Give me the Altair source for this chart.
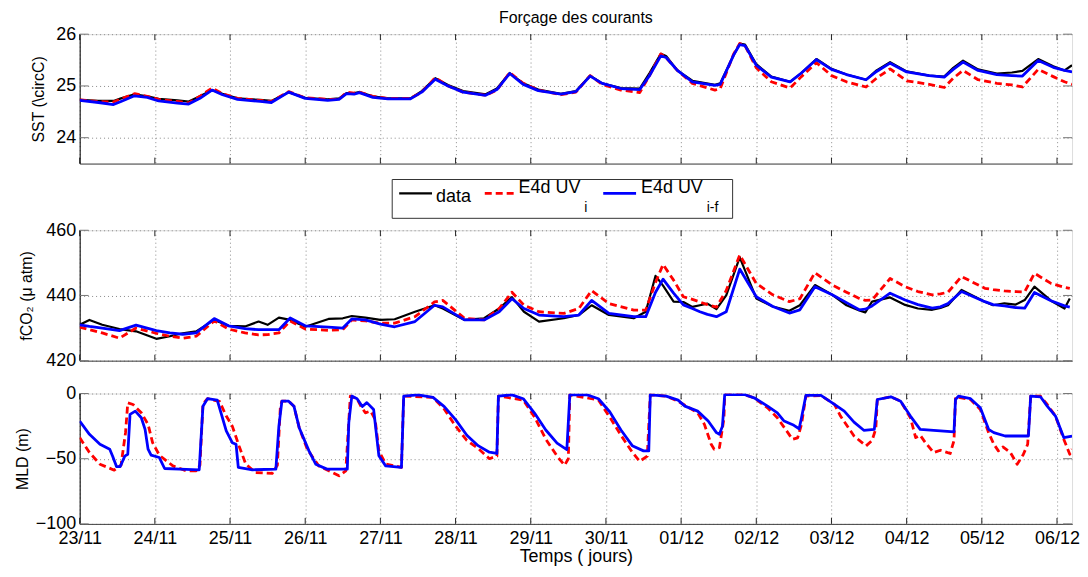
import altair as alt
import pandas as pd

FONT = "Liberation Sans"
W = 997
X_MAX = 13.2

chart_title = "Forçage des courants"
x_title = "Temps ( jours)"

tick_days = list(range(14))
tick_labels = ["23/11", "24/11", "25/11", "26/11", "27/11", "28/11", "29/11",
               "30/11", "01/12", "02/12", "03/12", "04/12", "05/12", "06/12"]

series_names = ["data", "E4d UV", "E4d UV"]
series_subs = ["", "i", "i-f"]
series_colors = ["#000000", "#ff0000", "#0000ff"]

sst_ticks = [24, 25, 26]
fco2_ticks = [420, 440, 460]
mld_ticks = [-100, -50, 0]

# ---------------- SST ----------------
sst_days = [0.00, 0.25, 0.45, 0.55, 0.73, 0.90, 1.05, 1.30, 1.45, 1.60,
            1.76, 1.90, 2.10, 2.40, 2.55, 2.78, 3.00, 3.30, 3.45, 3.55,
            3.65, 3.72, 3.90, 4.10, 4.40, 4.55, 4.73, 4.90, 5.10, 5.40,
            5.55, 5.72, 5.90, 6.10, 6.40, 6.60, 6.79, 6.95, 7.20, 7.45,
            7.58, 7.73, 7.80, 7.95, 8.15, 8.45, 8.52, 8.70, 8.78, 8.85,
            9.00, 9.20, 9.45, 9.60, 9.80, 10.00, 10.20, 10.46, 10.60, 10.78,
            11.00, 11.30, 11.50, 11.62, 11.75, 11.95, 12.20, 12.40, 12.54, 12.75,
            12.95, 13.10, 13.20]
sst_data = [24.73, 24.71, 24.71, 24.76, 24.84, 24.80, 24.75, 24.72, 24.70, 24.80,
            24.92, 24.85, 24.76, 24.73, 24.71, 24.88, 24.77, 24.74, 24.76, 24.86,
            24.86, 24.88, 24.80, 24.76, 24.76, 24.90, 25.15, 25.02, 24.90, 24.84,
            24.95, 25.25, 25.05, 24.93, 24.85, 24.90, 25.20, 25.05, 24.96, 24.95,
            25.25, 25.62, 25.58, 25.30, 25.10, 25.02, 25.05, 25.60, 25.82, 25.80,
            25.42, 25.18, 25.08, 25.25, 25.52, 25.33, 25.22, 25.12, 25.30, 25.46,
            25.28, 25.20, 25.18, 25.35, 25.49, 25.32, 25.24, 25.26, 25.29, 25.52,
            25.38, 25.30, 25.40]
sst_uvi = [24.73, 24.70, 24.69, 24.75, 24.85, 24.80, 24.74, 24.70, 24.67, 24.80,
           24.96, 24.85, 24.76, 24.72, 24.70, 24.89, 24.77, 24.74, 24.74, 24.88,
           24.86, 24.88, 24.80, 24.76, 24.76, 24.88, 25.16, 25.00, 24.88, 24.82,
           24.92, 25.26, 25.05, 24.92, 24.83, 24.88, 25.20, 25.03, 24.92, 24.87,
           25.20, 25.62, 25.55, 25.30, 25.05, 24.92, 24.95, 25.62, 25.82, 25.78,
           25.35, 25.08, 24.96, 25.18, 25.45, 25.20, 25.08, 24.98, 25.15, 25.33,
           25.10, 25.03, 24.97, 25.15, 25.30, 25.12, 25.05, 25.02, 24.98, 25.32,
           25.18, 25.08, 25.03]
sst_uvif = [24.72, 24.68, 24.64, 24.70, 24.81, 24.78, 24.71, 24.67, 24.65, 24.76,
            24.92, 24.83, 24.74, 24.70, 24.68, 24.88, 24.76, 24.72, 24.74, 24.85,
            24.84, 24.87, 24.78, 24.75, 24.75, 24.88, 25.13, 25.00, 24.88, 24.82,
            24.93, 25.24, 25.03, 24.91, 24.84, 24.89, 25.19, 25.05, 24.95, 24.93,
            25.20, 25.58, 25.55, 25.30, 25.08, 25.01, 25.03, 25.60, 25.80, 25.78,
            25.40, 25.17, 25.08, 25.25, 25.51, 25.32, 25.22, 25.12, 25.28, 25.44,
            25.27, 25.20, 25.17, 25.32, 25.46, 25.30, 25.22, 25.20, 25.19, 25.49,
            25.36, 25.30, 25.27]

# ---------------- fCO2 ----------------
fco2_days = [0.00, 0.13, 0.30, 0.53, 0.75, 1.02, 1.20, 1.37, 1.55, 1.79,
             1.98, 2.20, 2.38, 2.50, 2.65, 2.80, 3.00, 3.31, 3.50, 3.62,
             3.80, 4.00, 4.19, 4.46, 4.72, 4.83, 5.12, 5.38, 5.58, 5.75,
             5.91, 6.11, 6.44, 6.64, 6.81, 7.04, 7.37, 7.53, 7.66, 7.76,
             7.90, 8.03, 8.15, 8.25, 8.35, 8.47, 8.60, 8.78, 9.00, 9.22,
             9.44, 9.58, 9.78, 10.01, 10.20, 10.37, 10.45, 10.54, 10.78, 10.98,
             11.15, 11.34, 11.45, 11.55, 11.73, 12.04, 12.15, 12.30, 12.45, 12.57,
             12.70, 12.92, 13.10, 13.17]
fco2_data = [431.0, 432.5, 431.0, 429.7, 429.0, 426.7, 427.5, 428.4, 429.0, 432.5,
             430.7, 430.5, 432.0, 431.0, 433.2, 432.5, 430.4, 432.8, 433.0, 433.7,
             433.2, 432.5, 432.7, 435.0, 437.0, 436.0, 432.5, 433.0, 436.0, 439.5,
             435.0, 432.0, 433.0, 434.0, 437.0, 434.0, 433.0, 435.0, 446.0, 443.0,
             438.1, 438.0, 436.5, 437.0, 437.5, 435.8, 440.0, 451.7, 439.1, 436.6,
             435.3, 437.0, 443.2, 440.2, 437.0, 435.4, 434.8, 438.1, 439.4, 437.1,
             436.0, 435.6, 436.2, 437.0, 441.7, 438.1, 437.0, 437.6, 437.2, 438.6,
             442.7, 438.4, 436.0, 439.1]
fco2_uvi = [430.3, 429.5, 428.5, 426.9, 430.0, 428.4, 427.5, 426.9, 427.5, 432.2,
            429.7, 428.5, 427.9, 428.0, 428.5, 432.2, 429.7, 429.3, 429.5, 432.5,
            432.2, 431.5, 431.5, 433.5, 438.0, 438.5, 433.0, 432.5, 436.0, 441.0,
            437.0, 435.0, 434.5, 436.0, 441.5, 437.5, 435.5, 435.5, 444.0, 449.5,
            444.7, 439.6, 438.8, 438.0, 437.2, 436.4, 441.5, 452.4, 443.7, 440.2,
            438.1, 439.0, 447.0, 443.2, 441.0, 439.1, 438.5, 438.6, 445.2, 442.7,
            441.2, 440.2, 440.5, 441.0, 445.8, 442.2, 441.8, 441.4, 441.2, 441.1,
            446.8, 443.7, 442.5, 442.2]
fco2_uvif = [431.0, 430.5, 430.0, 429.2, 430.9, 429.2, 428.5, 428.1, 428.5, 432.9,
             430.7, 429.8, 429.5, 429.5, 429.5, 433.1, 430.7, 430.3, 430.0, 432.8,
             432.5, 431.2, 430.4, 432.0, 437.0, 436.5, 432.5, 432.5, 435.0, 439.0,
             436.0, 434.0, 433.5, 434.0, 438.5, 434.5, 433.5, 433.5, 441.0, 445.0,
             440.7, 437.1, 436.0, 435.0, 434.2, 433.5, 435.0, 448.1, 439.6, 436.6,
             434.6, 435.6, 442.7, 440.2, 437.8, 435.6, 435.8, 436.8, 440.7, 438.6,
             437.2, 436.1, 436.5, 437.5, 441.2, 438.1, 437.2, 436.8, 436.3, 436.1,
             440.9, 438.4, 436.8, 436.4]

# ---------------- MLD ----------------
mld_uvi_days = [0.00, 0.13, 0.27, 0.46, 0.55, 0.61, 0.64, 0.71, 0.82, 0.91,
                0.97, 1.06, 1.24, 1.42, 1.55, 1.60, 1.64, 1.70, 1.86, 1.95,
                2.03, 2.12, 2.21, 2.34, 2.56, 2.63, 2.67, 2.69, 2.78, 2.85,
                2.92, 3.03, 3.18, 3.36, 3.45, 3.54, 3.60, 3.69, 3.74, 3.80,
                3.87, 3.93, 3.98, 4.07, 4.28, 4.31, 4.70, 4.85, 5.00, 5.15,
                5.30, 5.45, 5.55, 5.57, 5.90, 6.05, 6.20, 6.35, 6.45, 6.50,
                6.52, 6.90, 7.05, 7.20, 7.35, 7.45, 7.55, 7.59, 7.80, 7.96,
                8.22, 8.31, 8.40, 8.44, 8.51, 8.57, 8.58, 8.84, 8.97, 9.15,
                9.28, 9.42, 9.48, 9.55, 9.60, 9.66, 9.86, 10.04, 10.12, 10.30,
                10.46, 10.54, 10.59, 10.61, 10.79, 10.92, 11.05, 11.12, 11.18, 11.25,
                11.36, 11.45, 11.58, 11.63, 11.65, 11.85, 11.98, 12.09, 12.16, 12.22,
                12.28, 12.38, 12.47, 12.55, 12.61, 12.65, 12.78, 12.87, 12.98, 13.09,
                13.17, 13.20]
mld_uvi = [-33.8, -45.3, -54.2, -58.8, -55.0, -30.0, -7.1, -8.4, -14.8, -23.7,
           -37.7, -47.3, -55.5, -59.3, -59.3, -55.0, -8.0, -4.0, -6.0, -17.3,
           -25.0, -40.2, -54.2, -60.6, -61.3, -55.0, -9.7, -5.9, -5.9, -9.7,
           -26.2, -43.0, -55.5, -60.6, -63.1, -59.3, -2.0, -4.0, -9.7, -14.8,
           -13.5, -19.8, -44.0, -54.0, -56.7, -2.0, -3.0, -12.0, -25.0, -36.0,
           -42.0, -50.0, -48.0, -2.0, -5.0, -18.0, -35.0, -48.0, -55.0, -50.0,
           -1.0, -5.0, -18.0, -32.0, -45.0, -52.0, -48.0, -1.0, -2.0, -5.9,
           -14.8, -23.7, -38.9, -42.7, -41.5, -19.0, -0.8, -0.8, -3.3, -11.0,
           -18.6, -30.0, -35.1, -34.0, -24.0, -2.0, -1.5, -8.4, -17.3, -32.6,
           -40.2, -36.0, -27.0, -4.6, -2.5, -5.9, -18.6, -33.8, -32.0, -37.7,
           -45.3, -43.5, -46.0, -36.0, -2.5, -4.6, -12.2, -30.0, -38.9, -44.0,
           -41.0, -45.3, -54.2, -47.0, -38.9, -2.0, -2.0, -8.4, -17.3, -35.0,
           -46.6, -42.7]

mld_uvif_days = [0.00, 0.13, 0.27, 0.40, 0.44, 0.49, 0.54, 0.60, 0.64, 0.67,
                 0.74, 0.82, 0.87, 0.91, 0.95, 1.06, 1.13, 1.33, 1.59, 1.64,
                 1.70, 1.83, 1.88, 1.95, 2.03, 2.08, 2.11, 2.30, 2.61, 2.65,
                 2.69, 2.78, 2.85, 2.92, 3.05, 3.14, 3.29, 3.56, 3.58, 3.62,
                 3.69, 3.76, 3.82, 3.91, 3.98, 4.07, 4.28, 4.31, 4.50, 4.70,
                 4.85, 5.00, 5.15, 5.30, 5.45, 5.55, 5.57, 5.75, 5.90, 6.05,
                 6.20, 6.35, 6.48, 6.52, 6.75, 6.90, 7.05, 7.20, 7.35, 7.50,
                 7.57, 7.59, 7.80, 7.96, 8.05, 8.22, 8.36, 8.47, 8.51, 8.55,
                 8.58, 8.84, 8.97, 9.15, 9.28, 9.37, 9.50, 9.57, 9.60, 9.66,
                 9.86, 10.04, 10.17, 10.30, 10.43, 10.57, 10.61, 10.79, 10.92, 11.05,
                 11.18, 11.63, 11.65, 11.69, 11.85, 11.98, 12.09, 12.16, 12.31, 12.62,
                 12.65, 12.78, 12.87, 12.98, 13.09, 13.20]
mld_uvif = [-21.1, -31.3, -38.9, -42.7, -48.3, -56.0, -56.0, -48.0, -46.6, -16.0,
            -13.5, -18.6, -27.5, -42.7, -47.3, -49.1, -57.5, -58.0, -58.5, -9.7,
            -4.0, -5.0, -14.8, -28.7, -37.7, -38.9, -56.7, -58.5, -58.0, -25.0,
            -5.9, -5.9, -9.7, -26.2, -44.0, -54.2, -58.0, -58.0, -22.4, -2.0,
            -4.0, -10.0, -7.0, -12.2, -47.8, -55.5, -56.7, -2.0, -1.0, -3.0,
            -10.0, -20.0, -32.0, -40.0, -45.0, -46.0, -2.0, -1.0, -4.0, -15.0,
            -28.0, -38.0, -43.0, -1.0, -1.0, -4.0, -14.0, -28.0, -40.0, -44.0,
            -44.0, -1.0, -2.0, -5.1, -9.7, -13.5, -21.1, -30.0, -31.3, -25.0,
            -0.8, -0.8, -3.3, -9.7, -14.8, -21.1, -24.4, -27.0, -19.0, -1.5,
            -1.5, -8.4, -13.5, -21.9, -28.2, -27.5, -4.6, -2.5, -5.9, -17.3,
            -27.5, -29.5, -4.6, -2.0, -4.0, -10.9, -27.5, -30.0, -32.6, -32.6,
            -2.0, -2.5, -9.7, -17.3, -33.8, -32.6]

assert len(sst_days) == len(sst_data) == len(sst_uvi) == len(sst_uvif)
assert len(fco2_days) == len(fco2_data) == len(fco2_uvi) == len(fco2_uvif)
assert len(mld_uvi_days) == len(mld_uvi)
assert len(mld_uvif_days) == len(mld_uvif)

label_expr = "[" + ",".join("'%s'" % s for s in tick_labels) + "][datum.value]"

GRID = dict(grid=True, gridColor="#8a8a8a", gridDash=[1, 3], gridWidth=1)


def panel(series, ytitle, ydom, yticks, height, title_pad, bottom=False, title=None):
    xs = alt.Scale(domain=[0, X_MAX], nice=False, zero=False)
    ys = alt.Scale(domain=ydom, nice=False, zero=False)
    xkw = dict(values=tick_days, ticks=False, domain=True, domainColor="#444444", **GRID)
    if bottom:
        xkw.update(labelExpr=label_expr, title=x_title, labelFontSize=18, labelFlush=False,
                   titleFontSize=18, titleFontWeight="normal", labelPadding=6, titlePadding=0,
                   labelFont=FONT, titleFont=FONT, labelColor="black", titleColor="black")
    else:
        xkw.update(labels=False, title="")
    xaxis = alt.Axis(**xkw)
    yaxis = alt.Axis(values=yticks, ticks=False, domain=True, domainColor="#000000",
                     title=ytitle, titlePadding=title_pad, labelPadding=4,
                     labelFontSize=18, titleFontSize=16, titleFontWeight="normal",
                     labelFont=FONT, titleFont=FONT, labelColor="black", titleColor="black",
                     **GRID)
    X = lambda f: alt.X(f, scale=xs, axis=xaxis)
    Y = lambda f: alt.Y(f, scale=ys, axis=yaxis)

    layers = []
    tick_df = pd.DataFrame({"t": tick_days})
    ytick_df = pd.DataFrame({"v": yticks})
    layers.append(alt.Chart(tick_df).mark_rule(color="#222222", strokeWidth=1)
                  .encode(x=X("t:Q"), y=alt.value(0), y2=alt.value(6)))
    layers.append(alt.Chart(tick_df).mark_rule(color="#222222", strokeWidth=1)
                  .encode(x=X("t:Q"), y=alt.value(height - 6), y2=alt.value(height)))
    layers.append(alt.Chart(ytick_df).mark_rule(color="#777777", strokeWidth=1)
                  .encode(y=Y("v:Q"), x=alt.value(0), x2=alt.value(9)))
    layers.append(alt.Chart(ytick_df).mark_rule(color="#777777", strokeWidth=1)
                  .encode(y=Y("v:Q"), x=alt.value(W - 9), x2=alt.value(W)))
    for days, vals, color, dash, width in series:
        df = pd.DataFrame({"t": days, "v": vals})
        kw = dict(color=color, strokeWidth=width, clip=True, strokeJoin="round")
        if dash:
            kw["strokeDash"] = dash
        layers.append(alt.Chart(df).mark_line(**kw).encode(x=X("t:Q"), y=Y("v:Q")))
    if title is not None:
        layers.append(alt.Chart(pd.DataFrame({"k": [0]}))
                      .mark_text(text=title, fontSize=16, font=FONT, color="black",
                                 align="center", baseline="alphabetic")
                      .encode(x=alt.value(W / 2), y=alt.value(-11)))
    return alt.layer(*layers).properties(width=W, height=height)


DASH = [7, 4]
top = panel([(sst_days, sst_data, series_colors[0], None, 2.2),
             (sst_days, sst_uvi, series_colors[1], DASH, 2.8),
             (sst_days, sst_uvif, series_colors[2], None, 2.8)],
            "SST (\\circC)", [23.5, 26], sst_ticks, 130, 9, title=chart_title)
mid = panel([(fco2_days, fco2_data, series_colors[0], None, 2.2),
             (fco2_days, fco2_uvi, series_colors[1], DASH, 2.8),
             (fco2_days, fco2_uvif, series_colors[2], None, 2.8)],
            "fCO₂ (μ atm)", [420, 460], fco2_ticks, 131, 11)
bot = panel([(mld_uvi_days, mld_uvi, series_colors[1], DASH, 2.8),
             (mld_uvif_days, mld_uvif, series_colors[2], None, 2.8)],
            "MLD (m)", [-100, 0], mld_ticks, 131, 5, bottom=True)

# ---------------- legend (between the first two panels) ----------------
base = alt.Chart(pd.DataFrame({"k": [0]}))
leg = [base.mark_rect(fill="white", stroke="#333333", strokeWidth=1)
       .encode(x=alt.value(314), x2=alt.value(656), y=alt.value(-17), y2=alt.value(22))]
sample_x = [321, 407, 526]
text_x = [358, 441, 564]
for i in range(3):
    kw = dict(color=series_colors[i], strokeWidth=2.8 if i else 2.2)
    if i == 1:
        kw["strokeDash"] = DASH
    leg.append(base.mark_rule(**kw).encode(x=alt.value(sample_x[i]), x2=alt.value(sample_x[i] + 33),
                                          y=alt.value(-3)))
    leg.append(base.mark_text(text=series_names[i], align="left", baseline="alphabetic",
                              fontSize=18, font=FONT, color="black")
               .encode(x=alt.value(text_x[i]), y=alt.value(6 if i == 0 else -3)))
    if series_subs[i]:
        leg.append(base.mark_text(text=series_subs[i], align="left", baseline="alphabetic",
                                  fontSize=14, font=FONT, color="black")
                   .encode(x=alt.value(text_x[i] + 66), y=alt.value(16)))
legend = alt.layer(*leg).properties(width=W, height=1,
                                    view=alt.ViewBackground(stroke="transparent"))

chart = alt.vconcat(top, legend, mid, bot, spacing=33, bounds="flush").properties(
    padding={"left": 5, "top": 0, "right": 0, "bottom": 0}
).configure_view(stroke="#808080", strokeWidth=1).configure(background="white")

chart.save("out.html", embed_options={"renderer": "svg", "actions": False})
